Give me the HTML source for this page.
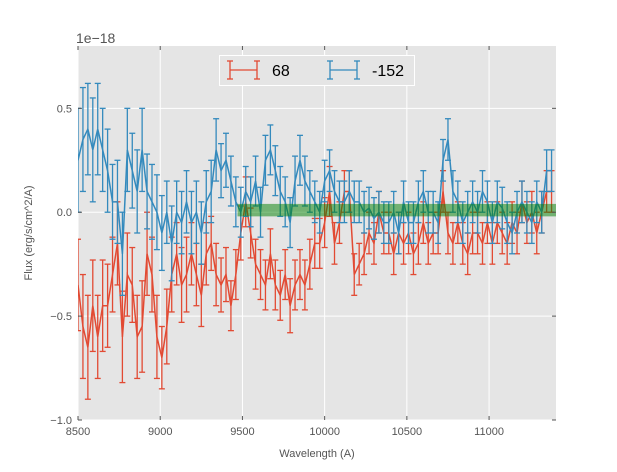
<!DOCTYPE html>
<html><head><meta charset="utf-8"><style>
body{margin:0;background:#fff;font-family:"Liberation Sans",sans-serif}
svg text{font-family:"Liberation Sans",sans-serif}
</style></head><body>
<svg id="chart" width="617" height="467" xmlns="http://www.w3.org/2000/svg"></svg>
<script>
const wavelengths=[8500,8530,8560,8590,8620,8650,8680,8710,8740,8770,8800,8830,8860,8890,8920,8950,8980,9010,9040,9070,9100,9130,9160,9190,9220,9250,9280,9310,9340,9370,9400,9430,9460,9490,9520,9550,9580,9610,9640,9670,9700,9730,9760,9790,9820,9850,9880,9910,9940,9970,10000,10030,10060,10090,10120,10150,10180,10210,10240,10270,10300,10330,10360,10390,10420,10450,10480,10510,10540,10570,10600,10630,10660,10690,10720,10750,10780,10810,10840,10870,10900,10930,10960,10990,11020,11050,11080,11110,11140,11170,11200,11230,11260,11290,11320,11350,11380];
const redFlux=[-0.35,-0.55,-0.65,-0.45,-0.6,-0.45,-0.45,-0.3,-0.15,-0.6,-0.3,-0.35,-0.6,-0.55,-0.2,-0.3,-0.6,-0.7,-0.55,-0.3,-0.2,-0.35,-0.3,-0.2,-0.3,-0.4,-0.2,-0.15,-0.3,-0.35,-0.3,-0.45,-0.3,-0.1,0.05,-0.1,-0.25,-0.3,-0.35,-0.2,-0.35,-0.4,-0.3,-0.45,-0.35,-0.3,-0.35,-0.25,-0.15,-0.15,-0.05,0.1,-0.15,-0.05,0.1,0.1,-0.3,-0.25,-0.2,-0.1,-0.15,0.0,-0.1,-0.1,-0.2,-0.1,-0.15,-0.1,-0.2,-0.15,-0.05,-0.15,-0.1,-0.1,0.1,-0.1,-0.15,-0.05,-0.15,-0.2,-0.1,-0.1,-0.15,-0.05,-0.15,-0.05,-0.1,-0.15,-0.05,-0.1,0.05,-0.05,0.0,-0.1,0.0,0.1,0.1];
const redErr=[0.22,0.25,0.25,0.22,0.2,0.22,0.2,0.18,0.2,0.22,0.2,0.18,0.2,0.22,0.2,0.18,0.2,0.15,0.18,0.18,0.15,0.18,0.18,0.15,0.15,0.15,0.15,0.13,0.15,0.13,0.13,0.12,0.12,0.13,0.12,0.12,0.12,0.12,0.12,0.12,0.12,0.12,0.12,0.13,0.12,0.12,0.12,0.12,0.12,0.12,0.12,0.12,0.1,0.1,0.1,0.1,0.1,0.1,0.1,0.1,0.1,0.1,0.1,0.1,0.1,0.1,0.1,0.1,0.1,0.1,0.1,0.1,0.1,0.1,0.1,0.1,0.1,0.1,0.1,0.1,0.1,0.1,0.1,0.1,0.1,0.1,0.1,0.1,0.1,0.1,0.1,0.1,0.1,0.1,0.1,0.1,0.1];
const blueFlux=[0.25,0.35,0.4,0.3,0.4,0.3,0.2,0.05,0.05,-0.2,0.3,0.2,0.1,0.3,0.1,0.05,0.0,-0.1,0.0,-0.15,0.0,-0.05,0.05,-0.05,0.0,-0.1,0.05,0.1,0.3,0.2,0.25,0.15,0.05,0.0,0.1,0.05,0.15,0.0,0.25,0.3,0.2,0.1,0.05,-0.05,0.15,0.25,0.15,0.1,0.05,0.0,0.15,0.2,0.1,0.05,0.05,0.1,0.05,0.05,0.0,0.02,-0.03,0.0,-0.05,-0.05,0.0,-0.1,0.05,-0.05,-0.05,0.05,0.1,0.0,0.0,-0.05,0.25,0.35,0.1,0.05,-0.05,0.0,0.05,0.0,0.1,0.05,-0.05,0.05,0.02,-0.05,-0.1,0.0,0.05,0.0,-0.05,0.05,0.0,0.2,0.2];
const blueErr=[0.25,0.25,0.22,0.25,0.22,0.2,0.2,0.18,0.2,0.2,0.2,0.18,0.2,0.2,0.18,0.18,0.18,0.18,0.15,0.18,0.15,0.15,0.15,0.15,0.15,0.15,0.15,0.15,0.15,0.13,0.13,0.12,0.12,0.12,0.12,0.12,0.12,0.12,0.12,0.12,0.12,0.12,0.12,0.12,0.12,0.12,0.12,0.1,0.1,0.1,0.1,0.1,0.1,0.1,0.1,0.1,0.1,0.1,0.1,0.1,0.1,0.1,0.1,0.1,0.1,0.1,0.1,0.1,0.1,0.1,0.1,0.1,0.1,0.1,0.1,0.1,0.1,0.1,0.1,0.1,0.1,0.1,0.1,0.1,0.1,0.1,0.1,0.1,0.1,0.1,0.1,0.1,0.1,0.1,0.1,0.1,0.1];
const bandX=[9470,11410];
const bandY=[-0.02,0.04];
const xTicks=[8500,9000,9500,10000,10500,11000];
const yTicks=[0.5,0.0,-0.5,-1.0];
const yTickLabels=["0.5","0.0","\u22120.5","\u22121.0"];

const L=78,R=556,T=46,B=420,X0=8500,X1=11407,Y0=-1.0,Y1=0.8;
const sx=v=>L+(v-X0)/(X1-X0)*(R-L);
const sy=v=>B-(v-Y0)/(Y1-Y0)*(B-T);
const svg=document.getElementById('chart');
const NS='http://www.w3.org/2000/svg';
function mk(tag,attrs,parent){const e=document.createElementNS(NS,tag);for(const k in attrs)e.setAttribute(k,attrs[k]);(parent||svg).appendChild(e);return e;}

const bg=mk('rect',{x:L,y:T,width:R-L,height:B-T,fill:'#e5e5e5'});


const grid=mk('g',{stroke:'#fff','stroke-width':1});


xTicks.forEach(t=>{mk('line',{x1:sx(t),x2:sx(t),y1:T,y2:B},grid);});
yTicks.forEach(t=>{mk('line',{x1:L,x2:R,y1:sy(t),y2:sy(t)},grid);});

function series(fl,er,color,name){
  const g=mk('g',{stroke:color,fill:'none','stroke-width':1.3});
  
  
  wavelengths.forEach((w,i)=>{
    const x=sx(w),y1=sy(fl[i]+er[i]),y2=sy(fl[i]-er[i]);
    mk('line',{x1:x,x2:x,y1:y1,y2:y2},g);
    mk('line',{x1:x-3,x2:x+3,y1:y1,y2:y1},g);
    mk('line',{x1:x-3,x2:x+3,y1:y2,y2:y2},g);
  });
  const p=mk('polyline',{points:wavelengths.map((w,i)=>sx(w)+','+sy(fl[i])).join(' '),'stroke-width':1.5},g);
  
  
}
series(redFlux,redErr,'#E24A33','series-68');
series(blueFlux,blueErr,'#348ABD','series-minus-152');

const band=mk('rect',{x:sx(bandX[0]),y:sy(bandY[1]),width:sx(bandX[1])-sx(bandX[0]),height:sy(bandY[0])-sy(bandY[1]),fill:'#008000','fill-opacity':0.5});


mk('rect',{x:0,y:0,width:L,height:467,fill:'#fff'});
mk('rect',{x:R,y:0,width:617-R,height:467,fill:'#fff'});

const ax=mk('g',{'font-size':11,fill:'#555'});


xTicks.forEach(t=>{
  mk('line',{x1:sx(t),x2:sx(t),y1:B,y2:B-4,stroke:'#555'},ax);
  mk('line',{x1:sx(t),x2:sx(t),y1:T,y2:T+4,stroke:'#555'},ax);
  const tx=mk('text',{x:sx(t),y:B+15,'text-anchor':'middle'},ax);tx.textContent=t;
  
  
});
yTicks.forEach((t,i)=>{
  mk('line',{x1:L,x2:L+4,y1:sy(t),y2:sy(t),stroke:'#555'},ax);
  mk('line',{x1:R,x2:R-4,y1:sy(t),y2:sy(t),stroke:'#555'},ax);
  const tx=mk('text',{x:L-6,y:sy(t)+4,'text-anchor':'end'},ax);tx.textContent=yTickLabels[i];
  
  
});
const off=mk('text',{x:L-2,y:T-3,'font-size':14,fill:'#555'});off.textContent='1e\u221218';


const xl=mk('text',{x:(L+R)/2,y:457,'text-anchor':'middle','font-size':11,fill:'#555'});xl.textContent='Wavelength (A)';


const yl=mk('text',{x:0,y:0,'text-anchor':'middle','font-size':11,fill:'#555',transform:'translate(32,233) rotate(-90)'});yl.textContent='Flux (erg/s/cm^2/A)';



const lg=mk('g',{});


mk('rect',{x:219.5,y:55.5,width:195,height:30,fill:'#e5e5e5',stroke:'#fff'},lg);
[[230,'#E24A33','68',272],[330,'#348ABD','-152',372]].forEach(([x,c,lab,tx])=>{
  const e=mk('g',{stroke:c,'stroke-width':1.3},lg);
  
  
  mk('line',{x1:x,x2:x+27,y1:70,y2:70},e);
  mk('line',{x1:x,x2:x,y1:61,y2:79},e);
  mk('line',{x1:x+27,x2:x+27,y1:61,y2:79},e);
  mk('line',{x1:x-3,x2:x+3,y1:61,y2:61},e);
  mk('line',{x1:x-3,x2:x+3,y1:79,y2:79},e);
  mk('line',{x1:x+24,x2:x+30,y1:61,y2:61},e);
  mk('line',{x1:x+24,x2:x+30,y1:79,y2:79},e);
  const t=mk('text',{x:tx,y:76,'font-size':16,fill:'#000'},lg);t.textContent=lab;
  
  
});
</script>
</body></html>
